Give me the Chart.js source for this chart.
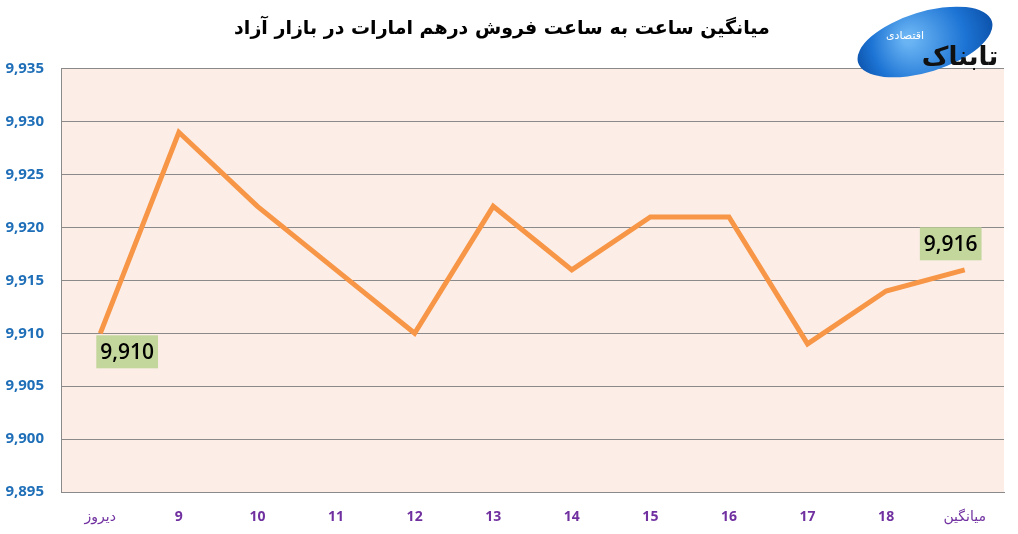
<!DOCTYPE html>
<html>
<head>
<meta charset="utf-8">
<script src="https://cdn.jsdelivr.net/npm/chart.js@4.4.0/dist/chart.umd.min.js"></script>
<style>
  html, body { margin: 0; padding: 0; background: #fff; }
  #wrap { width: 1018px; height: 534px; }
</style>
</head>
<body>
<div id="wrap"><canvas id="nerkh"></canvas></div>
<script>
// داده‌های نمودار
const categories = ['دیروز', '9', '10', '11', '12', '13', '14', '15', '16', '17', '18', 'میانگین'];
const prices = [9910, 9929, 9922, 9916, 9910, 9922, 9916, 9921, 9921, 9909, 9914, 9916];
const yTicks = [9895, 9900, 9905, 9910, 9915, 9920, 9925, 9930, 9935];
const labeledPoints = [0, 11]; // نقاطی که برچسب دارند

function fmt(v) {
  return v.toLocaleString('en-US');
}

// پس زمینه صورتی ناحیه نمودار
const plotBg = {
  id: 'plotBg',
  beforeDraw(chart) {
    const a = chart.chartArea, c = chart.ctx;
    c.save();
    c.fillStyle = '#fcede7';
    c.fillRect(a.left, a.top, a.right - a.left, a.bottom - a.top);
    c.restore();
  }
};

// برچسب مقدار با کادر سبز
const valueBoxes = {
  id: 'valueBoxes',
  afterDatasetsDraw(chart) {
    const c = chart.ctx;
    const pts = chart.getDatasetMeta(0).data;
    c.save();
    c.font = '600 21px "Open Sans", sans-serif';
    c.textBaseline = 'middle';
    c.textAlign = 'center';
    labeledPoints.forEach(function(i) {
      const p = pts[i];
      const txt = fmt(prices[i]);
      const w = c.measureText(txt).width + 8;
      const h = 33;
      let cx, cy;
      if (i === 0) { cx = p.x - 4 + w / 2; cy = p.y + 2 + h / 2; }
      else { cx = p.x - 14; cy = p.y - 26; }
      c.fillStyle = '#c3d69b';
      c.fillRect(cx - w / 2, cy - h / 2, w, h);
      c.fillStyle = '#000';
      c.fillText(txt, cx, cy + 1);
    });
    c.restore();
  }
};

// لوگو تقریبی
const logo = {
  id: 'logo',
  afterDraw(chart) {
    const c = chart.ctx;
    c.save();
    c.translate(925, 42);
    c.rotate(-0.3);
    const g = c.createRadialGradient(-15, -8, 5, 0, 0, 75);
    g.addColorStop(0, '#6ab4f4');
    g.addColorStop(0.6, '#1d74d4');
    g.addColorStop(1, '#0a4ea6');
    c.fillStyle = g;
    c.beginPath();
    c.ellipse(0, 0, 70, 30, 0, 0, Math.PI * 2);
    c.fill();
    c.restore();
    c.save();
    c.fillStyle = '#111';
    c.font = 'bold 26px "DejaVu Sans", sans-serif';
    c.textAlign = 'center';
    c.textBaseline = 'middle';
    c.fillText('تابناک', 960, 58);
    c.fillStyle = '#fff';
    c.font = '11px "DejaVu Sans", sans-serif';
    c.fillText('اقتصادی', 905, 36);
    c.restore();
  }
};

const ctx = document.getElementById('nerkh').getContext('2d');
const nerkhChart = new Chart(ctx, {
  type: 'line',
  data: {
    labels: categories,
    datasets: [{
      label: 'درهم',
      data: prices,
      borderColor: '#f79646',
      borderWidth: 5,
      pointRadius: 0,
      tension: 0,
      fill: false
    }]
  },
  options: {
    responsive: true,
    maintainAspectRatio: false,
    animation: false,
    layout: { padding: { left: 0, right: 14, top: 0, bottom: 0 } },
    plugins: {
      legend: { display: false },
      tooltip: { enabled: false },
      title: {
        display: true,
        text: 'میانگین ساعت به ساعت فروش درهم امارات در بازار آزاد',
        color: '#000',
        font: { family: '"DejaVu Sans", sans-serif', size: 19, weight: 'bold' },
        padding: { top: 18, bottom: 28 }
      }
    },
    scales: {
      x: {
        offset: true,
        grid: { display: false, drawTicks: false },
        border: { color: '#8a8a8a', width: 1 },
        ticks: {
          color: '#7030a0',
          padding: 17,
          maxRotation: 0,
          font: function(c) {
            const lbl = categories[c.index];
            const isNum = /^\d+$/.test(lbl);
            return isNum
              ? { family: '"Open Sans", sans-serif', size: 14, weight: 'bold' }
              : { family: '"DejaVu Sans", sans-serif', size: 14, weight: 'normal' };
          }
        },
        afterFit: function(s) { s.height = 42; }
      },
      y: {
        min: 9895,
        max: 9935,
        afterBuildTicks: function(s) { s.ticks = yTicks.map(v => ({ value: v })); },
        grid: { color: '#8a8a8a', lineWidth: 1, drawTicks: false },
        border: { color: '#8a8a8a', width: 1 },
        ticks: {
          color: '#1f6fb8',
          padding: 17,
          font: { family: '"Open Sans", sans-serif', size: 15, weight: 'bold' },
          callback: function(v) { return fmt(v); }
        },
        afterFit: function(s) { s.width = 61; }
      }
    }
  },
  plugins: [plotBg, valueBoxes, logo]
});
</script>
</body>
</html>
